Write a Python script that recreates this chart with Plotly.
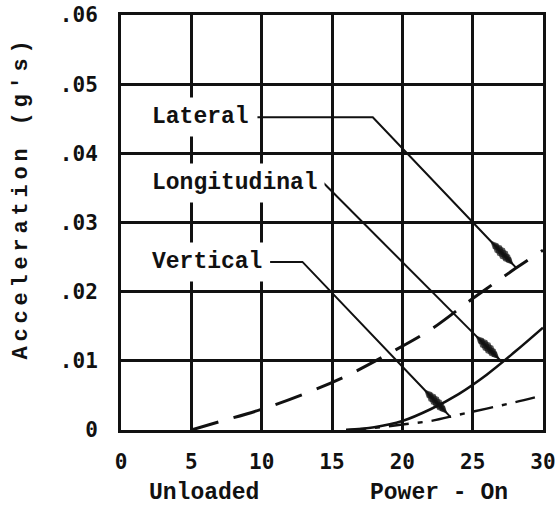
import numpy as np
import plotly.graph_objects as go

# ---- data ----
lat_x = [5, 7, 10, 13, 16, 19, 22, 25, 28, 30]
lat_y = [0, 0.0012, 0.003, 0.0052, 0.0078, 0.011, 0.0145, 0.019, 0.0233, 0.026]

lon_x = [16, 18, 20, 22, 24, 26, 28, 30]
lon_y = [0, 0.0004, 0.0013, 0.003, 0.0052, 0.008, 0.0113, 0.0148]

vert_x = [16, 18, 20, 22, 24, 26, 28, 30]
vert_y = [0, 0.0003, 0.0008, 0.0013, 0.0022, 0.0031, 0.004, 0.005]

x_tickvals = [0, 5, 10, 15, 20, 25, 30]
x_ticktext = ["0", "5", "10", "15", "20", "25", "30"]
y_tickvals = [0, 0.01, 0.02, 0.03, 0.04, 0.05, 0.06]
y_ticktext = ["0", ".01", ".02", ".03", ".04", ".05", ".06"]

labels = ["Lateral", "Longitudinal", "Vertical"]
label_x = [1.71, 1.71, 1.71]
label_y = [0.0452, 0.0357, 0.0243]
# leader path before the final arrow segment (label end, elbow)
leader_x = [[9.7, 17.9], [14.4, 14.4], [10.6, 12.9]]
leader_y = [[0.0452, 0.0452], [0.0357, 0.0357], [0.0243, 0.0243]]
tip_x = [28.1, 27.1, 23.4]

W, H = 557, 510
ML, MR, MT, MB = 121, 14, 15, 80
sx = (W - ML - MR) / 30.0
sy = (H - MT - MB) / 0.06

curves = [(lat_x, lat_y), (lon_x, lon_y), (vert_x, vert_y)]
INK = "#111111"

fig = go.Figure()
fig.add_trace(go.Scatter(x=lat_x, y=lat_y, mode="lines", line=dict(color=INK, width=3, dash="28px,16px", shape="spline"), hoverinfo="skip"))
fig.add_trace(go.Scatter(x=lon_x, y=lon_y, mode="lines", line=dict(color=INK, width=2.6, shape="spline"), hoverinfo="skip"))
fig.add_trace(go.Scatter(x=vert_x, y=vert_y, mode="lines", line=dict(color=INK, width=2.4, dash="20px,9px,5px,9px", shape="spline"), hoverinfo="skip"))

annos = []
for i, name in enumerate(labels):
    cx, cy = curves[i]
    tx = tip_x[i]
    ty = float(np.interp(tx, cx, cy))
    ex, ey = leader_x[i][-1], leader_y[i][-1]
    L = np.hypot((tx - ex) * sx, (ty - ey) * sy)
    xs = list(leader_x[i])
    ys = list(leader_y[i])
    sizes = [0] * len(xs)
    for d, s in ((30, 11), (26, 14), (22, 15), (18, 15), (14, 13), (11, 10)):
        t = 1 - d / L
        xs.append(ex + (tx - ex) * t)
        ys.append(ey + (ty - ey) * t)
        sizes.append(s)
    xs.append(tx)
    ys.append(ty)
    sizes.append(0)
    fig.add_trace(go.Scatter(x=xs, y=ys, mode="lines+markers",
                             line=dict(color=INK, width=2),
                             marker=dict(symbol="diamond-tall", size=sizes, color=INK,
                                         angleref="previous", line=dict(width=0)),
                             hoverinfo="skip"))
    annos.append(dict(x=label_x[i], y=label_y[i], xref="x", yref="y", text=name,
                      showarrow=False, xanchor="left", yanchor="middle",
                      bgcolor="white", borderpad=6,
                      font=dict(family="Liberation Mono", size=23, color=INK, weight="bold")))

annos.append(dict(x=-0.235, y=0.56, xref="paper", yref="paper",
                  text="<span style='letter-spacing:4.8px'>Acceleration (g's)</span>",
                  textangle=-90, showarrow=False, xanchor="center", yanchor="middle",
                  font=dict(family="Liberation Mono", size=22, color=INK, weight="bold")))
annos.append(dict(x=5.9, y=-0.152, xref="x", yref="paper", text="Unloaded", showarrow=False,
                  xanchor="center", yanchor="middle",
                  font=dict(family="Liberation Mono", size=23, color=INK, weight="bold")))
annos.append(dict(x=22.6, y=-0.152, xref="x", yref="paper", text="Power - On", showarrow=False,
                  xanchor="center", yanchor="middle",
                  font=dict(family="Liberation Mono", size=23, color=INK, weight="bold")))

tickfont = dict(family="DejaVu Sans Mono", size=21, color=INK, weight="bold")
fig.update_layout(
    width=W, height=H, margin=dict(l=ML, r=MR, t=MT, b=MB, autoexpand=False),
    paper_bgcolor="white", plot_bgcolor="white", showlegend=False,
    annotations=annos,
    xaxis=dict(range=[0, 30], tickvals=x_tickvals, ticktext=x_ticktext, showgrid=True,
               gridcolor=INK, gridwidth=2.5, showline=True, linecolor=INK,
               linewidth=3, mirror=True, zeroline=False, ticks="", tickfont=tickfont,
               ticklabelstandoff=11, fixedrange=True, automargin=False),
    yaxis=dict(range=[0, 0.06], tickvals=y_tickvals, ticktext=y_ticktext, showgrid=True,
               gridcolor=INK, gridwidth=2.5, showline=True, linecolor=INK,
               linewidth=3, mirror=True, zeroline=False, ticks="", tickfont=tickfont,
               ticklabelstandoff=16, fixedrange=True, automargin=False),
)
fig.write_html("out.html", config={"displayModeBar": False},
               post_script="document.body.style.margin='0';document.body.style.overflow='hidden';")
